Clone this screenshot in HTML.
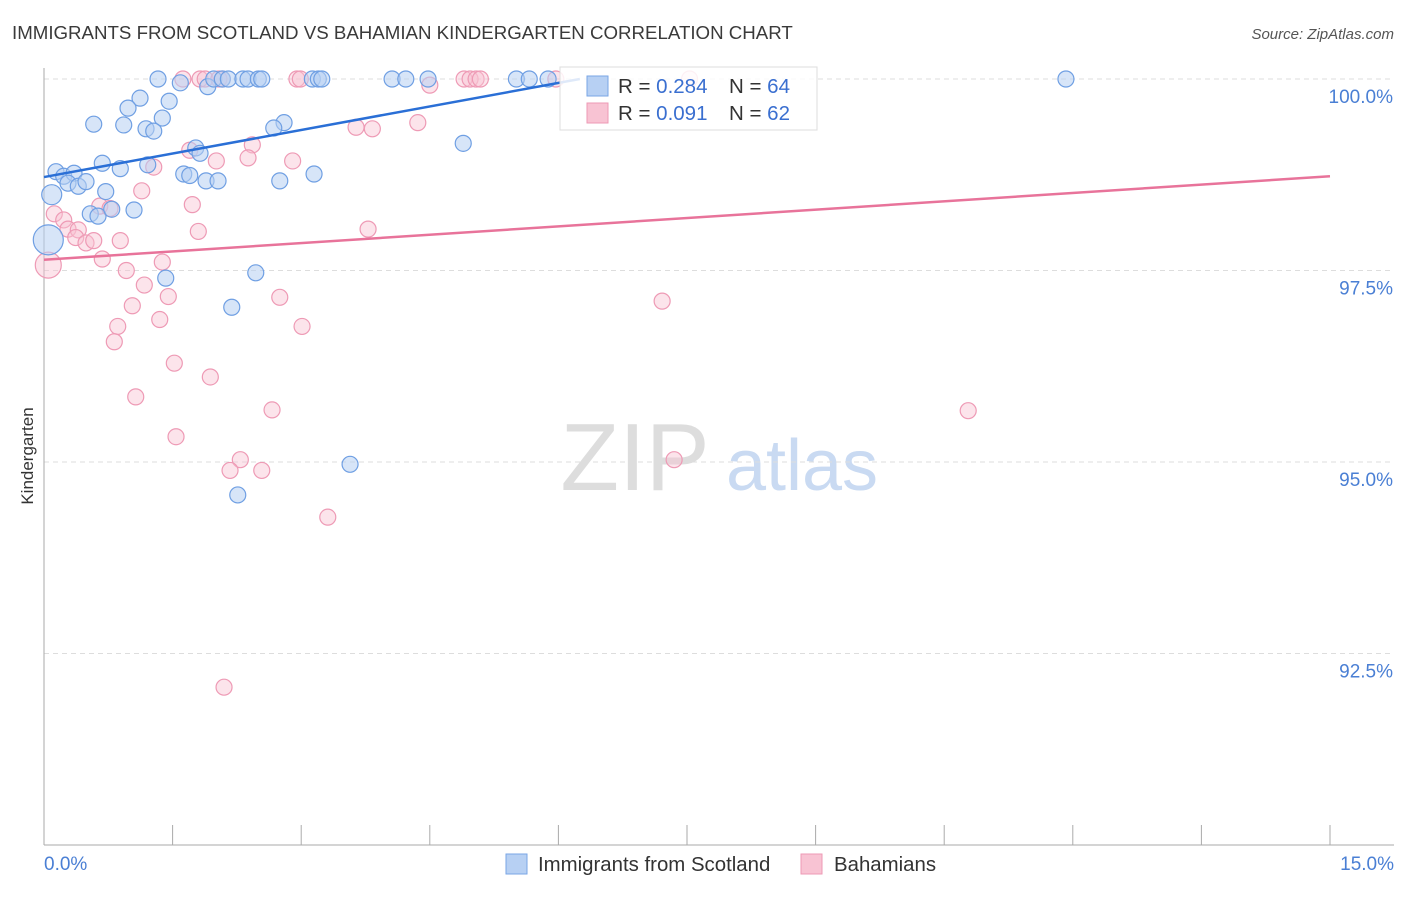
<!DOCTYPE html>
<html><head><meta charset="utf-8"><style>
body{margin:0;background:#fff;font-family:"Liberation Sans",sans-serif;}
svg text{font-family:"Liberation Sans",sans-serif;}
</style></head><body>
<svg id="chart" width="1406" height="892" xmlns="http://www.w3.org/2000/svg">
<text x="12" y="39" font-size="18.7" fill="#3a3a3a">IMMIGRANTS FROM SCOTLAND VS BAHAMIAN KINDERGARTEN CORRELATION CHART</text>
<text x="1394" y="39" font-size="15" fill="#555" font-style="italic" text-anchor="end">Source: ZipAtlas.com</text>
<text transform="translate(33,456) rotate(-90)" font-size="17" fill="#333" text-anchor="middle">Kindergarten</text>
<g><text x="635" y="490" font-size="96" fill="#ddd" font-family="Liberation Serif" text-anchor="middle">ZIP</text><text x="802" y="490" font-size="72" fill="#c9daf2" text-anchor="middle">atlas</text></g>
<g id="grid"></g><g id="axes"></g><g id="pts"></g><g id="lines"></g>
<g>
<rect x="560" y="67" width="257" height="63" fill="#fff" fill-opacity="0.85" stroke="#ddd"/>
<rect x="587" y="76" width="21" height="20" fill="#b7d0f3" stroke="#7aa6e6"/>
<rect x="587" y="103" width="21" height="20" fill="#f8c3d3" stroke="#ee9ab5"/>
<text x="618" y="93" font-size="20.5" fill="#333">R = <tspan fill="#3a6fd0">0.284</tspan></text>
<text x="729" y="93" font-size="20.5" fill="#333">N = <tspan fill="#3a6fd0">64</tspan></text>
<text x="618" y="120" font-size="20.5" fill="#333">R = <tspan fill="#3a6fd0">0.091</tspan></text>
<text x="729" y="120" font-size="20.5" fill="#333">N = <tspan fill="#3a6fd0">62</tspan></text>
</g>
<g>
<rect x="506" y="854" width="21" height="20" fill="#b7d0f3" stroke="#7aa6e6"/>
<text x="538" y="871" font-size="20.4" fill="#333">Immigrants from Scotland</text>
<rect x="801" y="854" width="21" height="20" fill="#f8c3d3" stroke="#ee9ab5"/>
<text x="834" y="871" font-size="20.4" fill="#333">Bahamians</text>
</g>
</svg>
<script>
const xTicks=[0,1.5,3,4.5,6,7.5,9,10.5,12,13.5,15];
const yTicks=[92.5,95,97.5,100];
const yTickLabels=["92.5%","95.0%","97.5%","100.0%"];
const xEndLabels=["0.0%","15.0%"];
const blueX=[1.33,1.59,1.91,1.98,2.08,2.15,2.32,2.38,2.50,2.54,3.13,3.20,3.24,4.06,4.22,4.48,5.51,5.66,5.88,11.92,1.12,0.98,1.46,1.38,0.58,0.93,1.19,1.28,2.80,2.68,4.89,0.14,0.23,0.35,0.68,0.89,1.21,1.77,1.82,1.63,1.70,1.89,2.03,2.75,3.15,0.28,0.40,0.49,0.72,0.09,0.54,0.63,0.79,1.05,0.05,1.42,2.47,2.19,3.57,2.26];
const blueY=[100,99.95,99.90,100,100,100,100,100,100,100,100,100,100,100,100,100,100,100,100,100,99.75,99.62,99.71,99.49,99.41,99.40,99.35,99.32,99.43,99.36,99.16,98.79,98.73,98.77,98.90,98.83,98.88,99.10,99.03,98.76,98.74,98.67,98.67,98.67,98.76,98.64,98.60,98.66,98.53,98.49,98.24,98.21,98.30,98.29,97.90,97.40,97.47,97.02,94.97,94.57];
const blueR=[8,8,8,8,8,8,8,8,8,8,8,8,8,8,8,8,8,8,8,8,8,8,8,8,8,8,8,8,8,8,8,8,8,8,8,8,8,8,8,8,8,8,8,8,8,8,8,8,8,10,8,8,8,8,15,8,8,8,8,8];
const pinkX=[1.62,1.82,1.88,2.04,2.08,2.95,2.99,4.90,4.97,5.04,5.09,5.97,7.53,4.50,3.64,3.83,4.36,2.43,1.70,2.01,2.38,2.90,1.28,1.14,0.12,0.23,0.28,0.40,0.65,0.77,1.73,1.80,3.78,0.37,0.49,0.58,0.89,0.05,0.68,0.96,1.17,1.38,1.45,1.03,1.35,0.86,0.82,2.75,3.01,7.21,1.52,1.94,1.07,2.66,10.78,1.54,2.29,2.17,2.54,7.35,3.31,2.10];
const pinkY=[100,100,100,100,100,100,100,100,100,100,100,100,100,99.92,99.37,99.35,99.43,99.14,99.07,98.93,98.97,98.93,98.85,98.54,98.24,98.16,98.04,98.03,98.34,98.31,98.36,98.01,98.04,97.93,97.86,97.89,97.89,97.57,97.65,97.50,97.31,97.61,97.16,97.04,96.86,96.77,96.57,97.15,96.77,97.10,96.29,96.11,95.85,95.68,95.67,95.33,95.03,94.89,94.89,95.03,94.28,92.06];
const pinkR=[8,8,8,8,8,8,8,8,8,8,8,8,8,8,8,8,8,8,8,8,8,8,8,8,8,8,8,8,8,8,8,8,8,8,8,8,8,13,8,8,8,8,8,8,8,8,8,8,8,8,8,8,8,8,8,8,8,8,8,8,8,8];
const blueTrend=[[0,98.72],[6.25,100]];
const pinkTrend=[[0,97.64],[15,98.73]];
const X0=44,X1=1330,Y0=79,Ybot=845;
const sx=v=>X0+(v-0)/15*(X1-X0);
const sy=v=>Y0+(100-v)/10*(Ybot-Y0);
const NS="http://www.w3.org/2000/svg";
function mk(p,t,a){const e=document.createElementNS(NS,t);for(const k in a)e.setAttribute(k,a[k]);p.appendChild(e);return e;}
const grid=document.getElementById('grid'),axes=document.getElementById('axes'),pts=document.getElementById('pts'),lines=document.getElementById('lines');
yTicks.forEach((v,i)=>{
 const l=mk(grid,'line',{x1:X0,x2:1394,y1:sy(v),y2:sy(v),stroke:'#ddd','stroke-dasharray':'5,4'});
 
 
 const t=mk(axes,'text',{x:1393,y:sy(v)+24,'font-size':19,fill:'#4a7fd4','text-anchor':'end'});
 t.textContent=yTickLabels[i];
 
 
});
const ya=mk(axes,'line',{x1:X0,x2:X0,y1:68,y2:Ybot,stroke:'#aaa'});


const xa=mk(axes,'line',{x1:X0,x2:1394,y1:Ybot,y2:Ybot,stroke:'#aaa'});


xTicks.forEach(v=>{
 const t=mk(axes,'line',{x1:sx(v),x2:sx(v),y1:Ybot,y2:Ybot-20,stroke:'#aaa'});
 
 
});
const xl0=mk(axes,'text',{x:X0,y:870,'font-size':19,fill:'#4a7fd4'});xl0.textContent=xEndLabels[0];


const xl1=mk(axes,'text',{x:1394,y:870,'font-size':19,fill:'#4a7fd4','text-anchor':'end'});xl1.textContent=xEndLabels[1];


pinkX.forEach((v,i)=>{
 const c=mk(pts,'circle',{cx:sx(v),cy:sy(pinkY[i]),r:pinkR[i],fill:'#f8c3d3','fill-opacity':0.45,stroke:'#ee9ab5','stroke-width':1.2});
 
 
});
blueX.forEach((v,i)=>{
 const c=mk(pts,'circle',{cx:sx(v),cy:sy(blueY[i]),r:blueR[i],fill:'#b7d0f3','fill-opacity':0.55,stroke:'#6f9fe3','stroke-width':1.2});
 
 
});
const bl=mk(lines,'line',{x1:sx(blueTrend[0][0]),y1:sy(blueTrend[0][1]),x2:sx(blueTrend[1][0]),y2:sy(blueTrend[1][1]),stroke:'#2a6fd6','stroke-width':2.5});


const pl=mk(lines,'line',{x1:sx(pinkTrend[0][0]),y1:sy(pinkTrend[0][1]),x2:sx(pinkTrend[1][0]),y2:sy(pinkTrend[1][1]),stroke:'#e8739a','stroke-width':2.5});


</script>
</body></html>
